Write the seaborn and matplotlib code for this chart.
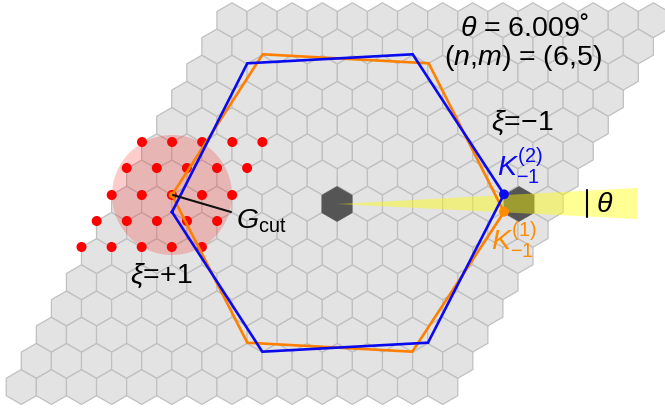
#!/usr/bin/env python3
import matplotlib
matplotlib.use("Agg")
import matplotlib.pyplot as plt
from matplotlib.collections import PatchCollection
from matplotlib.patches import Circle, RegularPolygon
import seaborn as sns

# hexagon lattice, all in image pixels (y down)
row_count = 15
col_count = 15
first_x = 21.3
bottom_y = 387.0
col_step = 30.1
row_step = 26.2
hex_radius = 17.4

dark_hex_x = [337, 519]
dark_hex_y = [204, 204]

# red reciprocal points
dot_row_y = [247, 221, 195, 168, 142]
dot_row_x0 = [81.5, 96.7, 111.7, 126.7, 142.0]
dot_row_count = 5

# moire zone boundaries
blue_x = [172, 247.3, 412.7, 504, 428, 262.3, 172]
blue_y = [212, 63.3, 54.3, 194.3, 342.7, 351.7, 212]
orange_x = [172, 262.7, 428.7, 504, 412.3, 247.3, 172]
orange_y = [195, 54.3, 63.3, 212, 351.7, 342.7, 195]

band_x = [337, 637, 637]
band_y = [204, 188, 219]

BLUE = "#0a0aee"
ORANGE = "#ff8000"

sns.set_theme(style="white")
plt.rcParams["font.family"] = ["Liberation Sans", "DejaVu Sans"]
plt.rcParams["text.color"] = "black"
plt.rcParams["mathtext.fontset"] = "custom"
plt.rcParams["mathtext.rm"] = "Liberation Sans"
plt.rcParams["mathtext.it"] = "Liberation Sans:italic"

fig = plt.figure(figsize=(6.65, 4.13), dpi=100)
ax = fig.add_axes([0, 0, 1, 1])

cells = []
for j in range(row_count):
    for i in range(col_count):
        cx = first_x + j * col_step / 2 + i * col_step
        cells.append(RegularPolygon((cx, bottom_y - j * row_step), 6, radius=hex_radius))
grid = PatchCollection(cells, facecolor="#e3e3e3", edgecolor="#c0c0c0", linewidth=0.9, zorder=1)
grid.set_snap(False)
ax.add_collection(grid)

dark = [RegularPolygon(c, 6, radius=hex_radius) for c in zip(dark_hex_x, dark_hex_y)]
dark_cells = PatchCollection(dark, facecolor="#555555", edgecolor="#555555", linewidth=0.5, zorder=2)
dark_cells.set_snap(False)
ax.add_collection(dark_cells)

ax.add_patch(Circle((172, 195), 60, facecolor="red", edgecolor="none", alpha=0.2, zorder=3))

dot_x = []
dot_y = []
for y0, x0 in zip(dot_row_y, dot_row_x0):
    for i in range(dot_row_count):
        dot_x.append(x0 + i * col_step)
        dot_y.append(y0)
sns.scatterplot(x=dot_x, y=dot_y, marker="o", s=52, color="#fe0000",
                edgecolor="none", ax=ax, zorder=4)

ax.fill(band_x, band_y, color="#ffff00", alpha=0.42, lw=0, zorder=5)

sns.lineplot(x=orange_x, y=orange_y, sort=False, estimator=None, color=ORANGE,
             linewidth=1.9, ax=ax, zorder=6, solid_joinstyle="miter", solid_capstyle="projecting")
sns.lineplot(x=blue_x, y=blue_y, sort=False, estimator=None, color=BLUE,
             linewidth=1.9, ax=ax, zorder=7, solid_joinstyle="miter", solid_capstyle="projecting")

sns.scatterplot(x=[504], y=[194.3], marker="o", s=50, color=BLUE, edgecolor="none", ax=ax, zorder=8)
sns.scatterplot(x=[504], y=[211.7], marker="o", s=50, color="#ff8c00", edgecolor="none", ax=ax, zorder=8)
sns.scatterplot(x=[172], y=[195], marker="o", s=22, color=ORANGE, edgecolor="none", ax=ax, zorder=8)

sns.lineplot(x=[173, 231], y=[195, 212], sort=False, estimator=None, color="#111111",
             linewidth=1.5, ax=ax, zorder=8)
sns.lineplot(x=[586.7, 586.7], y=[190, 217], sort=False, estimator=None, color="black",
             linewidth=1.5, ax=ax, zorder=8)

FS = 20.5
ax.text(460, 28, r"$\mathit{\theta}$ = 6.009˚", fontsize=FS, ha="left", va="center", zorder=9)
ax.text(523, 58, r"($\mathit{n}$,$\mathit{m}$) = (6,5)", fontsize=FS, ha="center", va="center", zorder=9)
ax.text(522, 123, r"$\mathit{\xi}$=−1", fontsize=FS, ha="center", va="center", zorder=9)
ax.text(161, 276, r"$\mathit{\xi}$=+1", fontsize=FS, ha="center", va="center", zorder=9)
ax.text(236, 221, r"$\mathit{G}_{\mathrm{cut}}$", fontsize=FS, ha="left", va="center", zorder=9)
ax.text(497, 166, r"$\mathit{K}_{-1}^{(2)}$", fontsize=FS, color=BLUE, ha="left", va="center", zorder=9)
ax.text(491, 240, r"$\mathit{K}_{-1}^{(1)}$", fontsize=FS, color="#ff8c00", ha="left", va="center", zorder=9)
ax.text(596, 205, r"$\mathit{\theta}$", fontsize=FS, ha="left", va="center", zorder=9)

ax.set_xlim(0, 665)
ax.set_ylim(413, 0)
ax.set_axis_off()
fig.savefig("out.png", dpi=100)
